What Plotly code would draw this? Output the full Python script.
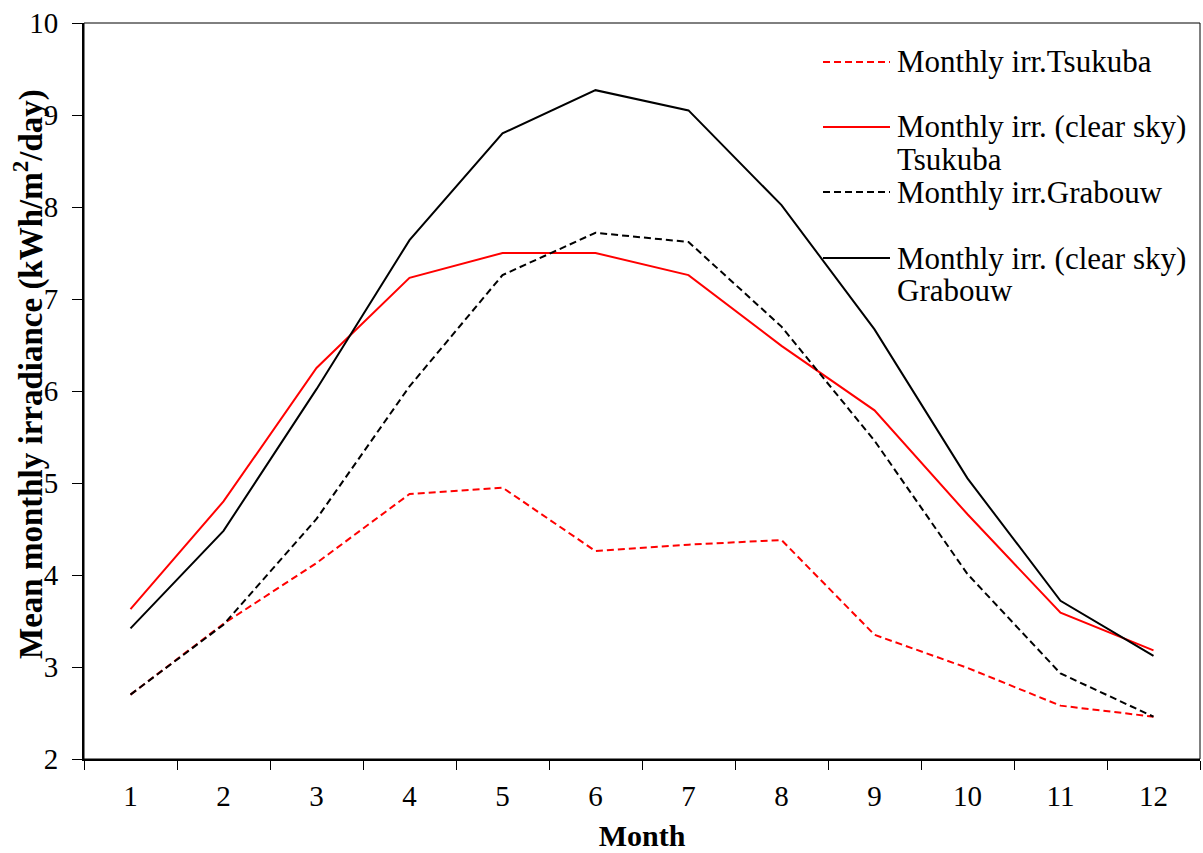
import plotly.graph_objects as go

# Mean monthly irradiance, kWh/m2/day
months = [str(m) for m in range(1, 13)]
tsukuba = [2.70, 3.47, 4.13, 4.88, 4.95, 4.26, 4.33, 4.38, 3.35, 2.99, 2.58, 2.46]
tsukuba_clear = [3.63, 4.80, 6.25, 7.23, 7.50, 7.50, 7.26, 6.49, 5.79, 4.66, 3.59, 3.18]
grabouw = [2.70, 3.46, 4.61, 6.05, 7.26, 7.72, 7.62, 6.70, 5.46, 4.01, 2.93, 2.46]
grabouw_clear = [3.42, 4.48, 6.02, 7.64, 8.80, 9.27, 9.05, 8.02, 6.67, 5.05, 3.72, 3.12]

legend_labels = [
    ["Monthly irr.Tsukuba"],
    ["Monthly irr. (clear sky)", "Tsukuba"],
    ["Monthly irr.Grabouw"],
    ["Monthly irr. (clear sky)", "Grabouw"],
]

W, H = 1203, 853
L, R, T, B = 84, 3, 23, 94
PW, PH = W - L - R, H - T - B

FONT = "Liberation Serif"
DASH = "7px,4px"

series = [
    (tsukuba, "#ff0000", DASH),
    (tsukuba_clear, "#ff0000", "solid"),
    (grabouw, "#000000", DASH),
    (grabouw_clear, "#000000", "solid"),
]

fig = go.Figure()
for (vals, color, dash), lab in zip(series, legend_labels):
    fig.add_trace(go.Scatter(
        x=months, y=vals, mode="lines", name=" ".join(lab),
        line=dict(color=color, width=2, dash=dash), showlegend=False,
    ))


def px_x(px):
    return (px - L) / PW


def px_y(py):
    return (T + PH - py) / PH


shapes = [
    # thin frame around the plotting area
    dict(type="rect", xref="paper", yref="paper", x0=0, x1=1, y0=0, y1=1,
         line=dict(color="#000000", width=1), layer="below"),
]
annotations = []

# hand-placed legend in the upper right corner
entry_y = [62, 127, 192, 258]
for (vals, color, dash), lab, ey in zip(series, legend_labels, entry_y):
    shapes.append(dict(type="line", xref="paper", yref="paper",
                       x0=px_x(823), x1=px_x(890), y0=px_y(ey), y1=px_y(ey),
                       line=dict(color=color, width=2, dash=dash)))
    for i, line in enumerate(lab):
        annotations.append(dict(
            xref="paper", yref="paper", x=px_x(895), y=px_y(ey + 33 * i),
            xanchor="left", yanchor="middle", showarrow=False, text=line,
            font=dict(family=FONT, size=31, color="#000000"),
        ))

# y axis title
annotations.append(dict(
    xref="paper", yref="paper", x=px_x(28), y=px_y(374),
    xanchor="center", yanchor="middle", showarrow=False, textangle=-90,
    text="<b>Mean monthly irradiance (kWh/m<sup>2</sup>/day)</b>",
    font=dict(family=FONT, size=33, color="#000000"),
))

fig.update_layout(
    width=W, height=H,
    margin=dict(l=L, r=R, t=T, b=B),
    paper_bgcolor="white", plot_bgcolor="white",
    font=dict(family=FONT, size=28, color="#000000"),
    shapes=shapes, annotations=annotations,
    showlegend=False,
)
fig.update_xaxes(
    type="category", range=[-0.5, 11.5],
    tickson="boundaries", ticks="outside", ticklen=9, tickwidth=1,
    tickcolor="#000000", showgrid=False, zeroline=False,
    showline=True, linecolor="#000000", linewidth=2,
    tickfont=dict(family=FONT, size=29, color="#000000"), ticklabelstandoff=10,
    title=dict(text="<b>Month</b>", font=dict(family=FONT, size=30, color="#000000"),
               standoff=14),
)
fig.update_yaxes(
    range=[2, 10], dtick=1, ticks="outside", ticklen=10, tickwidth=1,
    tickcolor="#000000", showgrid=False, zeroline=False,
    showline=True, linecolor="#000000", linewidth=2,
    tickfont=dict(family=FONT, size=29, color="#000000"), ticklabelstandoff=8,
)

fig.write_html("out.html")
